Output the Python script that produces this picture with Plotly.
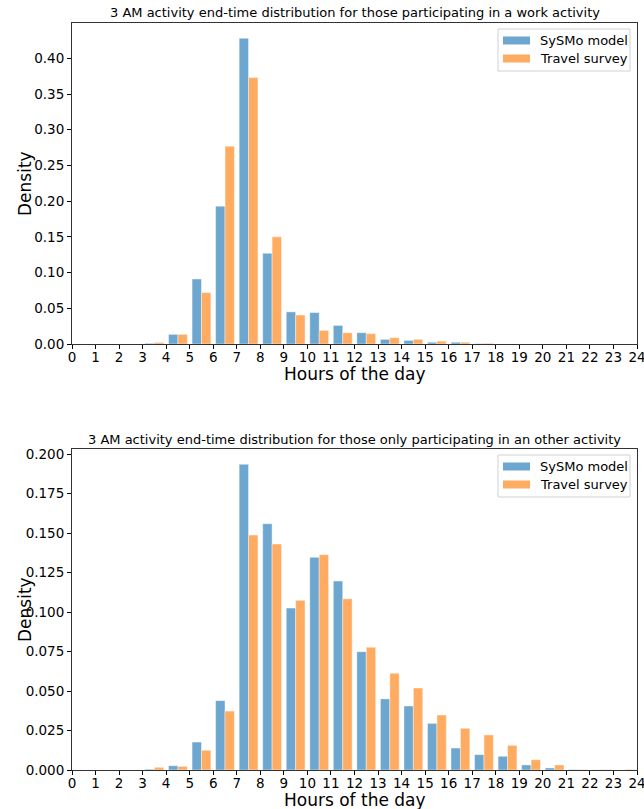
import plotly.graph_objects as go
from plotly.subplots import make_subplots

# Hour bins (left edges, 1-hour wide)
hours = list(range(24))

# Work activity: end-time densities per hour
work_sysmo = [0, 0, 0, 0.001, 0.0135, 0.091, 0.193, 0.428, 0.127, 0.045, 0.044, 0.026,
              0.0158, 0.0065, 0.005, 0.0025, 0.0025, 0.0005, 0, 0, 0, 0, 0, 0]
work_survey = [0, 0, 0, 0.0022, 0.0135, 0.072, 0.277, 0.373, 0.150, 0.0406, 0.019, 0.0158,
               0.0145, 0.0088, 0.0065, 0.004, 0.0025, 0.001, 0, 0, 0, 0, 0, 0]

# Other activity only: end-time densities per hour
other_sysmo = [0, 0, 0, 0.0005, 0.0027, 0.0177, 0.0439, 0.1935, 0.1559, 0.1025, 0.1346, 0.1196,
               0.0749, 0.045, 0.0405, 0.0295, 0.0139, 0.0097, 0.0087, 0.0032, 0.0013, 0.0003, 0.0001, 0]
other_survey = [0, 0, 0, 0.0017, 0.0023, 0.0125, 0.0373, 0.1487, 0.143, 0.1074, 0.1363, 0.1084,
                0.0777, 0.0612, 0.0519, 0.0348, 0.0264, 0.0222, 0.0156, 0.0065, 0.0032, 0.0003, 0.0003, 0.0004]

titles = ["3 AM activity end-time distribution for those participating in a work activity",
          "3 AM activity end-time distribution for those only participating in an other activity"]
series_names = ["SySMo model", "Travel survey"]
x_ticks = list(range(25))

BLUE = "rgba(31,119,180,0.65)"
ORANGE = "rgba(255,127,14,0.65)"
EDGE = "rgba(255,255,255,0.55)"
FONT = "DejaVu Sans"

W, H = 644, 809


def px(x):
    return x / W


def py(y):
    return 1 - y / H


fig = make_subplots(rows=2, cols=1)

panels = [(work_sysmo, work_survey), (other_sysmo, other_survey)]
for i, (a, b) in enumerate(panels, start=1):
    fig.add_trace(go.Bar(x=hours, y=a, width=0.4, offset=0.1, name=series_names[0],
                         marker=dict(color=BLUE, line=dict(color=EDGE, width=0.8)),
                         showlegend=False), row=i, col=1)
    fig.add_trace(go.Bar(x=hours, y=b, width=0.4, offset=0.5, name=series_names[1],
                         marker=dict(color=ORANGE, line=dict(color=EDGE, width=0.8)),
                         showlegend=False), row=i, col=1)

# Plot-area placement (pixels): left 72, right 637; top panel 23-344, bottom panel 449-770
x_dom = [px(72), px(637)]
y_doms = [[py(344), py(23)], [py(770), py(449)]]

axis_common = dict(showline=True, mirror=True, linecolor="rgba(0,0,0,0.8)", linewidth=1,
                   ticks="outside", ticklen=4, tickwidth=1, tickcolor="black",
                   showgrid=False, zeroline=False, automargin=False,
                   ticklabeloverflow="allow",
                   tickfont=dict(family=FONT, size=13.5, color="black"))

ymax = [max(max(work_sysmo), max(work_survey)) * 1.05,
        max(max(other_sysmo), max(other_survey)) * 1.05]
ytick_step = [0.05, 0.025]
ytick_fmt = [".2f", ".3f"]

for i in range(2):
    sfx = "" if i == 0 else "2"
    fig.layout["xaxis" + sfx].update(domain=x_dom, range=[0, 24], tickvals=x_ticks,
                                     ticktext=[str(t) for t in x_ticks],
                                     ticklabelstandoff=-3, **axis_common)
    fig.layout["yaxis" + sfx].update(domain=y_doms[i], range=[0, ymax[i]], dtick=ytick_step[i],
                                     tick0=0, tickformat=ytick_fmt[i], **axis_common)

annotations = []
shapes = []
for i in range(2):
    dy = 0 if i == 0 else 426
    # Panel title
    annotations.append(dict(text=titles[i], x=px(354.5), y=py(13 + dy), xref="paper", yref="paper",
                            showarrow=False, xanchor="center", yanchor="middle",
                            font=dict(family=FONT, size=13, color="black")))
    # Axis titles
    annotations.append(dict(text="Hours of the day", x=px(354.5), y=py(374 + dy), xref="paper",
                            yref="paper", showarrow=False, xanchor="center", yanchor="middle",
                            font=dict(family=FONT, size=17, color="black")))
    annotations.append(dict(text="Density", x=px(25), y=py(183 + dy), xref="paper", yref="paper",
                            showarrow=False, textangle=-90, xanchor="center", yanchor="middle",
                            font=dict(family=FONT, size=17, color="black")))
    # Legend box
    shapes.append(dict(type="rect", xref="paper", yref="paper",
                       x0=px(498), x1=px(630), y0=py(71 + dy), y1=py(29 + dy),
                       line=dict(color="rgba(204,204,204,0.9)", width=1),
                       fillcolor="rgba(255,255,255,0.8)", layer="above"))
    for j, (col, name) in enumerate(zip([BLUE, ORANGE], series_names)):
        yc = 40.5 + 18 * j + dy
        shapes.append(dict(type="rect", xref="paper", yref="paper",
                           x0=px(503), x1=px(530), y0=py(yc + 4), y1=py(yc - 4),
                           line=dict(width=0), fillcolor=col, layer="above"))
        annotations.append(dict(text=name, x=px(538), y=py(yc), xref="paper", yref="paper",
                                showarrow=False, xanchor="left", yanchor="middle",
                                font=dict(family=FONT, size=13, color="black")))

fig.update_layout(width=W, height=H, margin=dict(l=0, r=0, t=0, b=0),
                  paper_bgcolor="white", plot_bgcolor="white", barmode="overlay",
                  annotations=annotations, shapes=shapes,
                  font=dict(family=FONT, color="black"))

fig.write_html("out.html")
